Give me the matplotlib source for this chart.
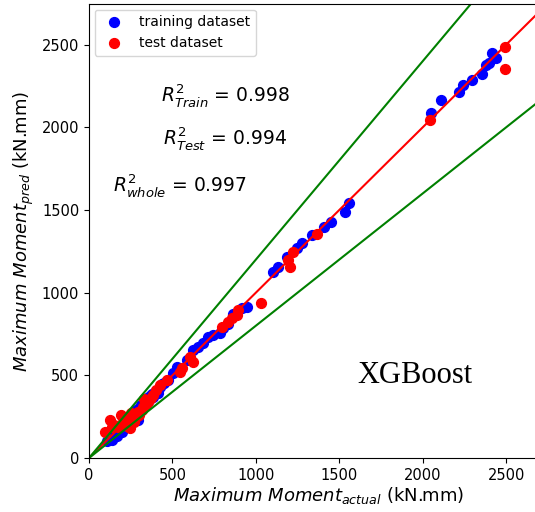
import numpy as np
import matplotlib
matplotlib.use("Agg")
import matplotlib.pyplot as plt

# Training set: actual vs predicted maximum moment (kN.mm)
train_actual = [110, 125, 135, 145, 150, 160, 165, 175, 180, 190, 195, 200, 210, 215,
                225, 230, 240, 250, 255, 265, 270, 280, 290, 295, 300, 310, 320, 330,
                340, 350, 360, 365, 375, 385, 395, 405, 415, 425, 440, 450, 475,
                505, 525, 585, 625, 655, 685, 715, 745, 785, 805, 830, 860, 915, 945,
                1105, 1135, 1185, 1245, 1275, 1335, 1405, 1451, 1535, 1559,
                2048, 2110, 2214, 2240, 2294, 2354, 2380, 2398, 2414, 2440]
train_pred = [105, 120, 110, 140, 125, 150, 130, 165, 175, 180, 160, 200, 195, 220,
              210, 240, 225, 250, 235, 270, 255, 290, 275, 230, 300, 320, 305, 340,
              330, 360, 350, 375, 385, 370, 400, 395, 390, 430, 445, 455, 470,
              512, 552, 592, 653, 673, 693, 733, 743, 753, 784, 810, 870, 905, 914,
              1126, 1156, 1216, 1267, 1297, 1347, 1398, 1428, 1488, 1543,
              2086, 2163, 2210, 2254, 2284, 2324, 2375, 2388, 2449, 2421]

# Test set
test_actual = [94, 124, 150, 174, 194, 214, 234, 244, 254, 270, 280, 294, 300, 324,
               340, 354, 370, 384, 400, 424, 465, 543, 555, 605, 625, 795, 835, 855,
               885, 895, 1030, 1195, 1205, 1225, 1365, 2044, 2490, 2490,
               140, 205, 225, 260, 315, 330]
test_pred = [159, 230, 200, 189, 260, 210, 230, 179, 270, 220, 250, 280, 260, 310,
             320, 340, 360, 381, 410, 441, 471, 521, 542, 612, 582, 793, 824, 844,
             864, 894, 937, 1196, 1152, 1247, 1353, 2042, 2482, 2349,
             185, 240, 195, 215, 290, 355]

r2_labels = [r'$R^2_{Train}$ = 0.998', r'$R^2_{Test}$ = 0.994', r'$R^2_{whole}$ = 0.997']
r2_pos = [(815, 2193), (815, 1933), (546, 1650)]

lim = 2750
fig = plt.figure(figsize=(5.35, 5.12), dpi=100)
ax = fig.add_axes([89 / 535, 54 / 512, 459 / 535, 454 / 512])

ax.scatter(train_actual, train_pred, s=50, color='blue', label='training dataset')
ax.scatter(test_actual, test_pred, s=50, color='red', label='test dataset')

xs = np.array([0, lim])
ax.plot(xs, xs, color='red', lw=1.5)
ax.plot(xs, 1.2 * xs, color='green', lw=1.5)
ax.plot(xs, 0.8 * xs, color='green', lw=1.5)

ax.set_xlim(0, lim)
ax.set_ylim(0, 2745)
ax.set_xticks([0, 500, 1000, 1500, 2000, 2500])
ax.set_yticks([0, 500, 1000, 1500, 2000, 2500])
ax.tick_params(labelsize=10.5)

ax.set_xlabel(r'$Maximum\ Moment_{actual}$ (kN.mm)', fontsize=13, labelpad=2)
ax.set_ylabel(r'$Maximum\ Moment_{pred}$ (kN.mm)', fontsize=13, labelpad=4)

for txt, (x, y) in zip(r2_labels, r2_pos):
    ax.text(x, y, txt, fontsize=13.5, ha='center', va='center')

ax.text(1955, 500, 'XGBoost', fontsize=22, family='Liberation Serif',
        ha='center', va='center')

ax.legend(loc='upper left', fontsize=10, handletextpad=0.8, borderaxespad=0.4)

fig.savefig('out.png', dpi=100)
